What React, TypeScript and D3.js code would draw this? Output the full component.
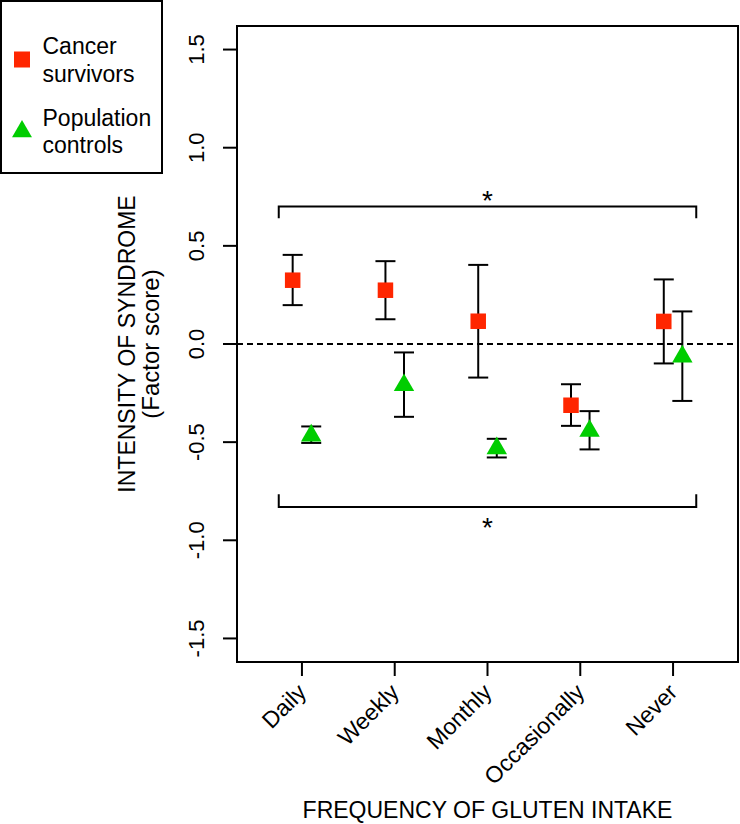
import * as d3 from 'd3';

const categories = ['Daily', 'Weekly', 'Monthly', 'Occasionally', 'Never'];

// Cancer survivors: mean and error-bar limits
const cancerMean = [0.325, 0.274, 0.116, -0.312, 0.115];
const cancerHigh = [0.454, 0.422, 0.403, -0.205, 0.329];
const cancerLow = [0.198, 0.126, -0.171, -0.417, -0.099];

// Population controls
const controlMean = [-0.467, -0.21, -0.531, -0.443, -0.064];
const controlHigh = [-0.42, -0.043, -0.483, -0.342, 0.166];
const controlLow = [-0.504, -0.371, -0.578, -0.537, -0.29];

const yTicks = [-1.5, -1.0, -0.5, 0.0, 0.5, 1.0, 1.5];

// significance brackets: [x from, x to, level, tip level, star level]
const brackets = [
  [0.75, 5.25, 0.7, 0.64, 0.763],
  [0.75, 5.25, -0.83, -0.765, -0.9],
];

const RED = '#ff2600';
const GREEN = '#00cd00';
const FONT = 'Liberation Sans, Arial, Helvetica, sans-serif';
const FS = 23;

export default function App() {
  const W = 740;
  const H = 824;
  const plot = { left: 237, right: 738, top: 26, bottom: 662 };

  const x = d3.scaleLinear().domain([0.3, 5.7]).range([plot.left, plot.right]);
  const y = d3.scaleLinear().domain([-1.62, 1.62]).range([plot.bottom, plot.top]);

  const off = 0.1;
  const cap = 10;
  const sq = 15.5;
  const triR = 11.8;
  const tri = (cx: number, cy: number, r: number) => {
    const xc = r * 0.866;
    return `M${cx},${cy - r}L${cx + xc},${cy + r / 2}L${cx - xc},${cy + r / 2}Z`;
  };

  const errBar = (cx: number, lo: number, hi: number, key: string) => (
    <g key={key} stroke="#000" strokeWidth={2}>
      <line x1={cx} x2={cx} y1={y(lo)} y2={y(hi)} />
      <line x1={cx - cap} x2={cx + cap} y1={y(lo)} y2={y(lo)} />
      <line x1={cx - cap} x2={cx + cap} y1={y(hi)} y2={y(hi)} />
    </g>
  );

  return (
    <svg width={W} height={H} style={{ position: 'absolute', left: 0, top: 0 }} fontFamily={FONT}>
      <rect width={W} height={H} fill="#fff" />

      {/* zero line */}
      <line x1={plot.left} x2={plot.right} y1={y(0)} y2={y(0)} stroke="#000" strokeWidth={2} strokeDasharray="6,4" />

      {/* brackets */}
      {brackets.map((b, i) => (
        <g key={'b' + i}>
          <path
            d={`M${x(b[0])},${y(b[3])}L${x(b[0])},${y(b[2])}L${x(b[1])},${y(b[2])}L${x(b[1])},${y(b[3])}`}
            fill="none"
            stroke="#000"
            strokeWidth={2}
          />
          <text x={x((b[0] + b[1]) / 2)} y={y(b[4]) + 16} textAnchor="middle" fontSize={28}>
            *
          </text>
        </g>
      ))}

      {/* error bars */}
      {categories.map((c, i) => errBar(x(i + 1 - off), cancerLow[i], cancerHigh[i], 'ec' + c))}
      {categories.map((c, i) => errBar(x(i + 1 + off), controlLow[i], controlHigh[i], 'ep' + c))}

      {/* markers */}
      {categories.map((c, i) => (
        <rect
          key={'s' + c}
          x={x(i + 1 - off) - sq / 2}
          y={y(cancerMean[i]) - sq / 2}
          width={sq}
          height={sq}
          fill={RED}
        />
      ))}
      {categories.map((c, i) => (
        <path key={'t' + c} d={tri(x(i + 1 + off), y(controlMean[i]), triR)} fill={GREEN} />
      ))}

      {/* plot box */}
      <rect
        x={plot.left}
        y={plot.top}
        width={plot.right - plot.left}
        height={plot.bottom - plot.top}
        fill="none"
        stroke="#000"
        strokeWidth={2}
      />

      {/* y axis */}
      {yTicks.map((t) => (
        <g key={'y' + t}>
          <line x1={plot.left - 14} x2={plot.left} y1={y(t)} y2={y(t)} stroke="#000" strokeWidth={2} />
          <text transform={`translate(204,${y(t)}) rotate(-90)`} textAnchor="middle" fontSize={22}>
            {d3.format('.1f')(t).replace('−', '-')}
          </text>
        </g>
      ))}

      {/* x axis */}
      {categories.map((c, i) => (
        <g key={'x' + c}>
          <line x1={x(i + 1)} x2={x(i + 1)} y1={plot.bottom} y2={plot.bottom + 14} stroke="#000" strokeWidth={2} />
          <text
            transform={`translate(${x(i + 1)},${688}) rotate(-45)`}
            textAnchor="end"
            dy="0.35em"
            fontSize={FS}
          >
            {c}
          </text>
        </g>
      ))}

      {/* axis titles */}
      <text transform={`translate(135,${y(0)}) rotate(-90)`} textAnchor="middle" fontSize={FS}>
        INTENSITY OF SYNDROME
      </text>
      <text transform={`translate(159,${y(0)}) rotate(-90)`} textAnchor="middle" fontSize={24}>
        (Factor score)
      </text>
      <text x={(plot.left + plot.right) / 2} y={818} textAnchor="middle" fontSize={FS}>
        FREQUENCY OF GLUTEN INTAKE
      </text>

      {/* legend */}
      <rect x={1} y={1} width={161} height={172} fill="#fff" stroke="#000" strokeWidth={2} />
      <rect x={22 - 8} y={59.5 - 8} width={16} height={16} fill={RED} />
      <path d={tri(22, 131.4, 11.5)} fill={GREEN} />
      <text x={42.5} y={54} fontSize={FS}>Cancer</text>
      <text x={42.5} y={81.5} fontSize={FS}>survivors</text>
      <text x={42.5} y={126} fontSize={FS}>Population</text>
      <text x={42.5} y={153.3} fontSize={FS}>controls</text>
    </svg>
  );
}
